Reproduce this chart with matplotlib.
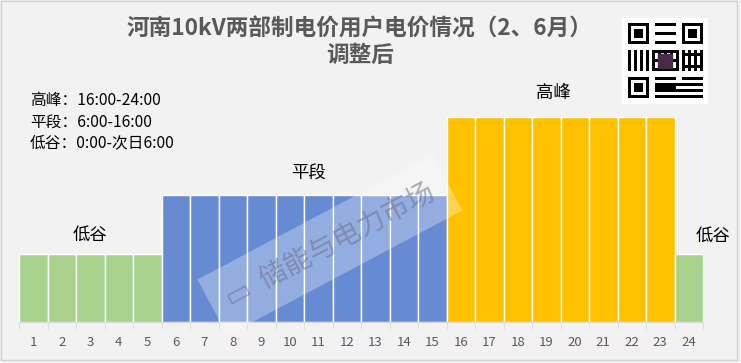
import matplotlib.pyplot as plt
import matplotlib.patches as mpatches
import numpy as np

plt.rcParams['font.family'] = ['Noto Sans CJK SC', 'DejaVu Sans']

hours = list(range(1, 25))
# relative price level by period
level_valley = 0.535
level_flat = 1.0
level_peak = 1.61
periods = ['valley'] * 5 + ['flat'] * 10 + ['peak'] * 8 + ['valley']
period_levels = {'valley': level_valley, 'flat': level_flat, 'peak': level_peak}
period_colors = {'valley': '#A9D18E', 'flat': '#668BD3', 'peak': '#FFC000'}
values = [period_levels[p] for p in periods]

title = '河南10kV两部制电价用户电价情况（2、6月）\n调整后'
legend_lines = ['高峰：16:00-24:00', '平段：6:00-16:00', '低谷：0:00-次日6:00']

fig = plt.figure(figsize=(7.41, 3.63), dpi=100, facecolor='#F2F2F2')
fig.patches.append(mpatches.Rectangle((0.002, 0.008), 0.993, 0.988, transform=fig.transFigure,
                                      fill=False, edgecolor='#D0D0D0', linewidth=1))

ax = fig.add_axes([19 / 741, 1 - 322 / 363, 684 / 741, 205 / 363])
ax.set_facecolor('#F2F2F2')
ax.bar(hours, values, width=1.0, color=[period_colors[p] for p in periods],
       edgecolor='white', linewidth=1.0)
ax.set_xlim(0.5, 24.5)
ax.set_ylim(0, level_peak)
for s in ['top', 'right', 'left']:
    ax.spines[s].set_visible(False)
ax.spines['bottom'].set_color('#D9D9D9')
ax.set_yticks([])
ax.set_xticks(hours)
ax.set_xticklabels([str(h) for h in hours], color='#595959', fontsize=9.5)
ax.tick_params(axis='x', which='major', length=0, pad=10)
ax.set_xticks(np.arange(0.5, 25, 1), minor=True)
ax.tick_params(axis='x', which='minor', length=5, color='#D9D9D9')

# period labels above the bars
lab = dict(ha='center', va='center', fontsize=12.5, clip_on=False)
ax.text(3, level_valley + 0.15, '低谷', **lab)
ax.text(10.65, level_flat + 0.165, '平段', **lab)
ax.text(19.25, level_peak + 0.19, '高峰', **lab)
ax.text(24.85, level_valley + 0.14, '低谷', **lab)

fig.text(360 / 741, 1 - 42 / 363, title, ha='center', va='center', fontsize=16.3,
         fontweight='bold', color='#595959', linespacing=1.2)

for i, line in enumerate(legend_lines):
    fig.text(30 / 741, 1 - (101 + 21 * i) / 363, line, ha='left', va='center',
             fontsize=11.3, color='black')

# watermark
fig.text(330 / 741, 1 - 245 / 363, '▭  储能与电力市场', ha='center', va='center',
         rotation=28, fontsize=20, color='#6E6E8E', alpha=0.55,
         bbox=dict(boxstyle='square,pad=0.6', facecolor='white', edgecolor='none', alpha=0.3))

# QR-code placeholder
qr = fig.add_axes([622 / 741, 1 - 104 / 363, 86 / 741, 86 / 363], zorder=5)
qr.set_facecolor('white')
qr.set_xticks([])
qr.set_yticks([])
for s in qr.spines.values():
    s.set_visible(False)
pattern = np.zeros((25, 25))
for r, c in [(0, 0), (0, 18), (18, 0)]:
    pattern[r:r + 7, c:c + 7] = 1
    pattern[r + 1:r + 6, c + 1:c + 6] = 0
    pattern[r + 2:r + 5, c + 2:c + 5] = 1
pattern[9:16, 0:25:2] = 1
pattern[0:25:3, 9:16] = 1
pattern[20:25:2, 9:25] = 1
pattern[10:25:4, 18:25] = 1
qr.imshow(pattern, cmap='Greys', interpolation='nearest', aspect='auto',
          extent=(-0.5, 24.5, 24.5, -0.5))
qr.set_xlim(-2.5, 26.5)
qr.set_ylim(26.5, -2.5)
qr.add_patch(mpatches.Rectangle((9.5, 9.5), 5, 5, color='#4A2A4A'))

fig.savefig('out.png', dpi=100, facecolor=fig.get_facecolor())
